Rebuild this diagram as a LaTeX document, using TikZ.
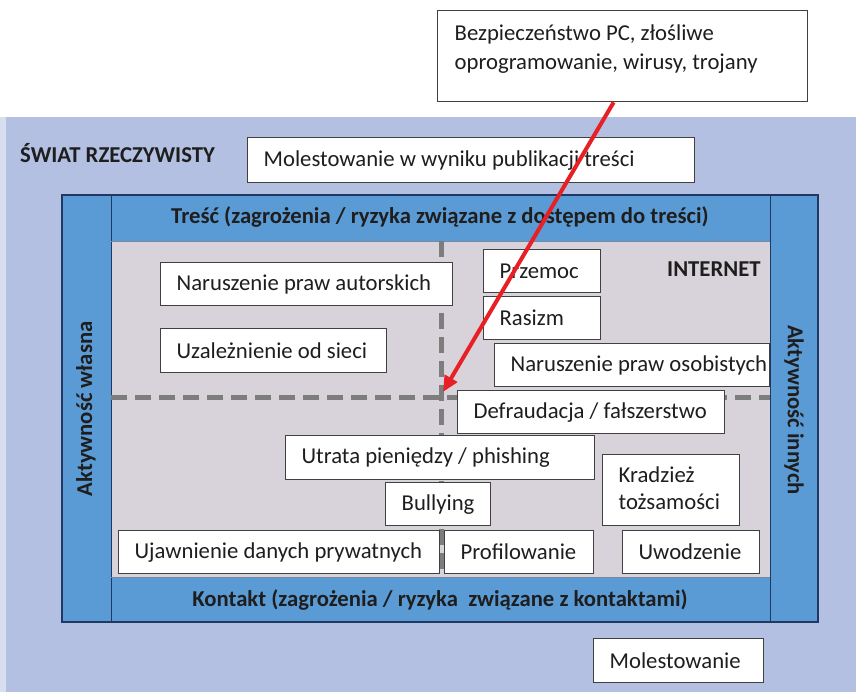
\documentclass[tikz,border=0pt]{standalone}
\usepackage{fontspec}
\setmainfont{Carlito}
\usetikzlibrary{arrows.meta,calc}
\definecolor{bgblue}{RGB}{179,192,225}
\definecolor{bgedge}{RGB}{214,222,240}
\definecolor{midblue}{RGB}{91,155,213}
\definecolor{navy}{RGB}{31,56,100}
\definecolor{areagray}{RGB}{216,211,218}
\definecolor{dashgray}{RGB}{125,125,125}
\definecolor{boxgray}{RGB}{64,64,64}
\definecolor{txt}{RGB}{30,30,30}
\definecolor{arrowred}{RGB}{232,32,38}
\newcommand\bx[6]{\pgfmathsetmacro\bxtw{#4-32}\node[box, minimum height=#5pt] (#1) at (#2,#3) {\makebox[\bxtw pt][l]{#6}};}
\tikzset{
  box/.style={draw=boxgray, fill=white, line width=1.3pt, inner xsep=16pt, inner ysep=0pt,
    anchor=north west, text=txt, font=\fontsize{22.7}{27}\selectfont},
  head/.style={text=txt, font=\bfseries\fontsize{22.7}{27}\selectfont, inner sep=0pt},
  dashline/.style={dashgray, line width=5pt, dash pattern=on 16pt off 8pt},
  sep/.style={navy, line width=0.9pt},
}
\begin{document}
\begin{tikzpicture}[x=1pt,y=-1pt]
\useasboundingbox (0,0) rectangle (856,692);
\fill[white] (0,0) rectangle (856,692);
% real world background
\fill[bgedge] (0,117) rectangle (8,692);
\fill[bgblue] (6,117) rectangle (856,692);
% internet area
\fill[areagray] (111,241) rectangle (770,577);
\fill[midblue] (62,195) rectangle (111,622);
\fill[midblue] (770,195) rectangle (818,622);
\fill[midblue] (111,195) rectangle (770,241);
\fill[midblue] (111,577) rectangle (770,622);
\draw[sep] (111,195) -- (111,622);
\draw[sep] (770,195) -- (770,622);
\draw[sep, navy!60] (111,241) -- (770,241);
\draw[sep, navy!60] (111,577) -- (770,577);
\draw[navy, line width=2.5pt] (62,195) rectangle (818,622);
% dashed axes
\draw[dashline] (441,241) -- (441,577);
\draw[dashline] (111,397) -- (770,397);
% labels
\node[head, anchor=west] (swiat) at (20,153) {ŚWIAT RZECZYWISTY};
\node[head, anchor=west] (internet) at (667,269) {INTERNET};
\node[head] (tresc) at (440,217) {Treść (zagrożenia / ryzyka związane z dostępem do treści)};
\node[head] (kontakt) at (440,600) {Kontakt (zagrożenia / ryzyka\ \ związane z kontaktami)};
\node[head, rotate=90] (wlasna) at (86,409) {Aktywność własna};
\node[head, rotate=-90] (innych) at (794,410) {Aktywność innych};
% boxes
\node[box, minimum width=370pt, minimum height=91pt, inner xsep=17pt] (bez) at (437,10)
  {\parbox[c][91pt][t]{336pt}{\fontsize{22.7}{29}\selectfont\rule{0pt}{30pt}Bezpieczeństwo PC, złośliwe\\oprogramowanie, wirusy, trojany}};
\bx{mol1}{247}{137}{447}{45}{Molestowanie w wyniku publikacji treści}
\bx{aut}{160}{262}{292}{43}{Naruszenie praw autorskich}
\bx{uza}{160}{328}{226}{44}{Uzależnienie od sieci}
\bx{prz}{483}{249}{117}{43}{Przemoc}
\bx{ras}{483}{296}{117}{43}{Rasizm}
\bx{oso}{494}{343}{275}{43}{Naruszenie praw osobistych}
\bx{def}{457}{390}{267}{43}{Defraudacja / fałszerstwo}
\bx{utr}{285}{435}{309}{44}{Utrata pieniędzy / phishing}
\bx{bul}{385}{482}{105}{43}{Bullying}
\bx{kra}{602}{454}{137}{71}{\begin{tabular}{@{}l@{}}Kradzież\\tożsamości\end{tabular}}
\bx{uja}{118}{530}{321}{43}{Ujawnienie danych prywatnych}
\bx{pro}{444}{530}{149}{43}{Profilowanie}
\bx{uwo}{622}{530}{137}{43}{Uwodzenie}
\bx{mol2}{593}{638}{170}{44}{Molestowanie}
% red arrow
\coordinate (tip) at (443,392);
\draw[arrowred, line width=4pt, -{Triangle[length=16pt,width=14pt]}]
  ($(bez.south west)!0.4757!(bez.south east)$) -- (tip);
\end{tikzpicture}
\end{document}
